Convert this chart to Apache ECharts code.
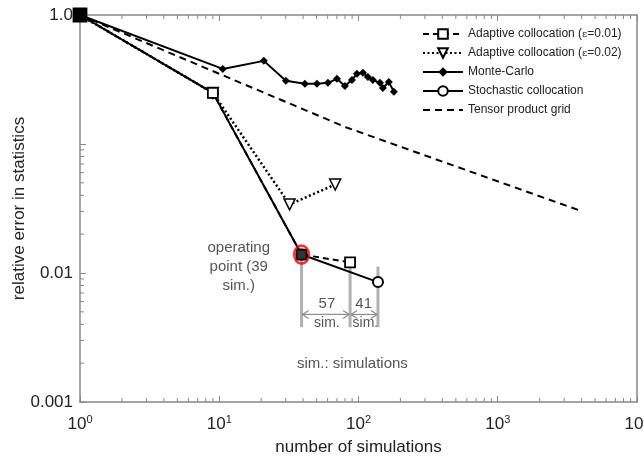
<!DOCTYPE html>
<html><head><meta charset="utf-8">
<script src="https://cdn.jsdelivr.net/npm/echarts@6/dist/echarts.min.js"></script>
<style>html,body{margin:0;padding:0;background:#fff}#c{width:644px;height:464px}</style>
</head><body><div id="c"></div>
<script>
// ---- data ----
const xTickLabels = ['10{s|0}', '10{s|1}', '10{s|2}', '10{s|3}', '10{s|4}'];
const yTickLabels = ['1.0', '', '0.01', '0.001']; // index = -log10(value)
const seriesNames = ['Adaptive collocation (ε=0.01)', 'Adaptive collocation (ε=0.02)', 'Monte-Carlo', 'Stochastic collocation', 'Tensor product grid'];
const adaptive001 = [[1, 1], [9, 0.249], [39, 0.0139], [87, 0.0121]];
const adaptive002 = [[1, 1], [9, 0.249], [32, 0.034], [68, 0.0485]];
const monteCarlo = [[1, 1], [10.6, 0.382], [20.9, 0.441], [30.1, 0.309], [41.2, 0.293], [50.3, 0.293], [60.3, 0.298], [70, 0.32], [79.8, 0.282], [89.7, 0.314], [97.4, 0.35], [107.6, 0.356], [116.8, 0.331], [126.8, 0.314], [142.5, 0.298], [149.7, 0.272], [165, 0.303], [179.5, 0.254]];
const stochastic = [[1, 1], [9, 0.249], [39, 0.0139], [138, 0.0085]];
const tensorGrid = [[1, 1], [81, 0.135], [3880, 0.0305]];
const operatingPoint = [[39, 0.0139]];
// gray guide lines: [x, yTop, yBottom]
const guideLines = [[39, 0.0139, 0.0038], [87, 0.0112, 0.0038], [138, 0.0112, 0.0038]];
// double arrows: [xFrom, xTo, y]
const spanArrows = [[39, 87, 0.00477], [87, 138, 0.00477]];
// text annotations: [text, x, y, fontSize]
const annotations = [
  ['operating\npoint (39\nsim.)', 13.8, 0.01125, 15],
  ['57', 59.3, 0.00572, 15],
  ['sim.', 59.3, 0.00407, 14],
  ['41', 109, 0.00572, 15],
  ['sim.', 112, 0.00407, 14],
  ['sim.: simulations', 90.4, 0.00196, 15]
];
// minor tick positions (axis structure)
const xMinor = [], yMinor = [];
for (let e = 0; e < 4; e++) for (let m = 2; m <= 9; m++) xMinor.push(m * Math.pow(10, e));
for (let e = -3; e < -1; e++) for (let m = 2; m <= 9; m++) yMinor.push(m * Math.pow(10, e));

const FONT = 'Liberation Sans, Arial, sans-serif';
const chart = echarts.init(document.getElementById('c'), null, {renderer: 'canvas'});

const tickData = xMinor.map(v => [v, 1, 0]).concat(yMinor.map(v => [1, v, 1]));

const option = {
  animation: false,
  backgroundColor: '#fff',
  grid: {left: 80, right: 7, top: 15, bottom: 62, containLabel: false, outerBoundsMode: 'none'},
  legend: {
    data: seriesNames.map((n, i) => i === 4 ? {name: n, itemStyle: {opacity: 0}} : n),
    orient: 'vertical',
    left: 417, top: 23,
    itemWidth: 40, itemHeight: 12, itemGap: 7,
    textStyle: {fontSize: 12, color: '#222', fontFamily: FONT, rich: {e: {fontSize: 10, fontFamily: 'DejaVu Serif', color: '#222'}}},
    formatter: n => n.replace('ε', '{e|ε}'),
    selectedMode: false
  },
  xAxis: [{
    type: 'log', logBase: 10, min: 1, max: 10000, position: 'bottom',
    name: 'number of simulations', nameLocation: 'middle', nameGap: 37, nameMoveOverlap: false,
    nameTextStyle: {fontSize: 17, color: '#222', fontFamily: FONT},
    axisLine: {lineStyle: {color: '#888', width: 1.5}},
    axisTick: {inside: true, length: 6, lineStyle: {color: '#888'}},
    splitLine: {show: false}, minorTick: {show: false},
    axisLabel: {
      margin: 12, color: '#222', fontSize: 17, fontFamily: FONT,
      formatter: v => xTickLabels[Math.round(Math.log10(v))],
      rich: {s: {fontSize: 11, color: '#222', fontFamily: FONT, verticalAlign: 'bottom', padding: [0, 0, 10, 0]}}
    }
  }, {
    type: 'log', logBase: 10, min: 1, max: 10000, position: 'top',
    axisLine: {lineStyle: {color: '#888', width: 1.5}},
    axisTick: {inside: true, length: 6, lineStyle: {color: '#888'}},
    axisLabel: {show: false}, splitLine: {show: false}
  }],
  yAxis: [{
    type: 'log', logBase: 10, min: 0.001, max: 1,
    name: 'relative error in statistics', nameLocation: 'middle', nameGap: 52, nameMoveOverlap: false,
    nameTextStyle: {fontSize: 17, color: '#222', fontFamily: FONT},
    axisLine: {lineStyle: {color: '#888', width: 1.5}},
    axisTick: {inside: true, length: 6, lineStyle: {color: '#888'}},
    splitLine: {show: false},
    axisLabel: {margin: 7, color: '#222', fontSize: 17, fontFamily: FONT,
      formatter: v => yTickLabels[-Math.round(Math.log10(v))]}
  }, {
    type: 'log', logBase: 10, min: 0.001, max: 1, position: 'right',
    axisLine: {show: true, lineStyle: {color: '#888', width: 1.5}},
    axisTick: {show: false}, axisLabel: {show: false}, splitLine: {show: false}
  }],
  series: [
    { // minor ticks
      type: 'custom', silent: true, z: 1, data: tickData,
      renderItem: (params, api) => {
        const cs = params.coordSys;
        const kind = api.value(2);
        const st = {stroke: '#888', lineWidth: 1};
        if (kind === 0) {
          const px = api.coord([api.value(0), 1])[0];
          return {type: 'group', children: [
            {type: 'line', shape: {x1: px, y1: cs.y + cs.height, x2: px, y2: cs.y + cs.height - 4}, style: st},
            {type: 'line', shape: {x1: px, y1: cs.y, x2: px, y2: cs.y + 4}, style: st}
          ]};
        }
        const py = api.coord([1, api.value(1)])[1];
        return {type: 'line', shape: {x1: cs.x, y1: py, x2: cs.x + 4, y2: py}, style: st};
      }
    },
    { // gray guide lines
      type: 'custom', silent: true, z: 1, data: guideLines,
      renderItem: (params, api) => {
        const a = api.coord([api.value(0), api.value(1)]);
        const b = api.coord([api.value(0), api.value(2)]);
        return {type: 'line', shape: {x1: a[0], y1: a[1], x2: b[0], y2: b[1]}, style: {stroke: '#b0b0b0', lineWidth: 3}};
      }
    },
    { // double arrows
      type: 'custom', silent: true, z: 1, data: spanArrows,
      renderItem: (params, api) => {
        const a = api.coord([api.value(0), api.value(2)]);
        const b = api.coord([api.value(1), api.value(2)]);
        const st = {stroke: '#909090', lineWidth: 1.3, fill: null};
        const h = 4, w = 6;
        return {type: 'group', children: [
          {type: 'line', shape: {x1: a[0] + 1, y1: a[1], x2: b[0] - 1, y2: b[1]}, style: st},
          {type: 'polyline', shape: {points: [[a[0] + w + 1, a[1] - h], [a[0] + 1, a[1]], [a[0] + w + 1, a[1] + h]]}, style: st},
          {type: 'polyline', shape: {points: [[b[0] - w - 1, b[1] - h], [b[0] - 1, b[1]], [b[0] - w - 1, b[1] + h]]}, style: st}
        ]};
      }
    },
    {
      name: seriesNames[4], type: 'line', data: tensorGrid, symbol: 'none', z: 3,
      lineStyle: {color: '#000', width: 2, type: [7, 5]}, itemStyle: {color: '#000'}
    },
    {
      name: seriesNames[2], type: 'line', data: monteCarlo, symbol: 'diamond', symbolSize: 8, z: 3,
      lineStyle: {color: '#000', width: 2}, itemStyle: {color: '#000'}
    },
    {
      name: seriesNames[3], type: 'line', data: stochastic, symbol: 'circle', symbolSize: 10, z: 4,
      lineStyle: {color: '#000', width: 2}, itemStyle: {color: '#fff', borderColor: '#000', borderWidth: 2}
    },
    {
      name: seriesNames[1], type: 'line', data: adaptive002, symbol: 'triangle', symbolRotate: 180, symbolSize: 11, z: 5,
      lineStyle: {color: '#000', width: 2.5, type: [2, 2.5]}, itemStyle: {color: '#fff', borderColor: '#000', borderWidth: 1.5}
    },
    {
      name: seriesNames[0], type: 'line', z: 6,
      data: adaptive001.map((d, i) => i === 0 ? {value: d, symbolSize: 13, itemStyle: {color: '#000'}} : (i === 2 ? {value: d, itemStyle: {color: '#333'}} : d)),
      symbol: 'rect', symbolSize: 10,
      lineStyle: {color: '#000', width: 2, type: [6, 4]}, itemStyle: {color: '#fff', borderColor: '#000', borderWidth: 1.8}
    },
    {
      name: 'operating point', type: 'scatter', data: operatingPoint, symbol: 'circle', symbolSize: [15, 18], z: 7,
      itemStyle: {color: 'rgba(0,0,0,0)', borderColor: '#ff0000', borderWidth: 2.5}
    }
  ]
};
chart.setOption(option);

const graphics = annotations.map(a => {
  const p = chart.convertToPixel({xAxisIndex: 0, yAxisIndex: 0}, [a[1], a[2]]);
  return {type: 'text', x: p[0], y: p[1], silent: true,
    style: {text: a[0], fontSize: a[3], fontFamily: FONT, fill: '#555', align: 'center', verticalAlign: 'middle', lineHeight: 19}};
});
chart.setOption({graphic: graphics});
</script>
</body></html>
